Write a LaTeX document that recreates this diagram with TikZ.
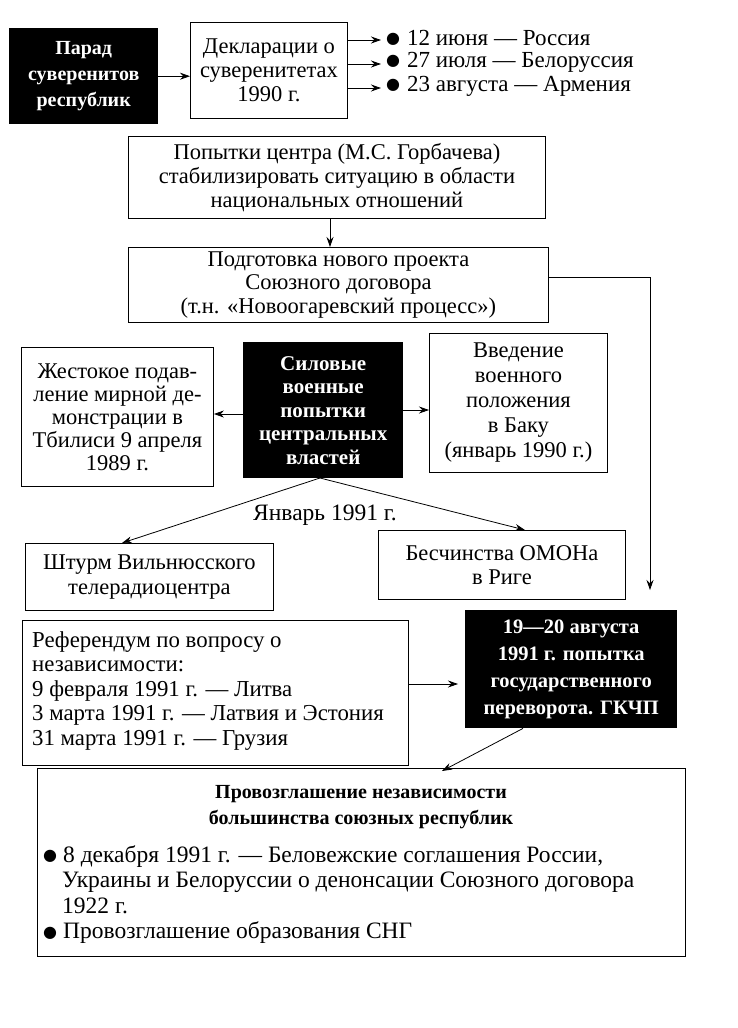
\documentclass[tikz,border=0pt]{standalone}
\usepackage{fontspec}
\setmainfont{Liberation Serif}
\newfontfamily\bulfont{DejaVu Sans}
\usetikzlibrary{arrows.meta,calc}
\newcommand\regf{\fontsize{22.5}{23.8}\selectfont}
\newcommand\reff{\fontsize{22.8}{24.5}\selectfont}
\newcommand\bldf{\fontsize{20}{26}\selectfont\bfseries}
\newcommand\bul{\raisebox{1.5pt}{\bulfont\fontsize{16}{16}\selectfont ●}}
\tikzset{
  box/.style={draw, line width=0.9pt, inner sep=0pt, align=center, font=\regf, anchor=north west},
  blk/.style={fill=black, text=white, inner sep=0pt, align=center, font=\bldf, anchor=north west},
  txt/.style={inner sep=0pt, font=\regf},
  arr/.style={line width=0.8pt, -{Stealth[length=10pt,width=7pt]}},
}
\begin{document}
\begin{tikzpicture}[x=1pt,y=-1pt]
\useasboundingbox (0,0) rectangle (738,1028);
% top row
\node[blk, minimum width=149pt, minimum height=96pt] (parad) at (9,28) {Парад\\суверенитов\\республик};
\node[box, minimum width=157pt, minimum height=96pt] (decl) at (190,22) {Декларации о\\суверенитетах\\1990 г.};
\node[txt, anchor=west, font=\fontsize{23}{24}\selectfont] (l1) at (386,38) {\bul\hspace{7pt}12 июня — Россия};
\node[txt, anchor=west, font=\fontsize{23}{24}\selectfont] (l2) at (386,62) {\bul\hspace{7pt}27 июля — Белоруссия};
\node[txt, anchor=west, font=\fontsize{23}{24}\selectfont] (l3) at (386,86) {\bul\hspace{7pt}23 августа — Армения};
\draw[arr] (parad.east) -- (parad.east -| decl.west);
\draw[arr] (decl.east |- 0,40) -- ([xshift=-5pt]l1.west |- 0,40);
\draw[arr] (decl.east |- 0,64) -- ([xshift=-5pt]l2.west |- 0,64);
\draw[arr] (decl.east |- 0,88) -- ([xshift=-5pt]l3.west |- 0,88);
% center column
\node[box, minimum width=417pt, minimum height=82pt] (pop) at (128,136) {Попытки центра (М.С. Горбачева)\\стабилизировать ситуацию в области\\национальных отношений};
\node[box, minimum width=420pt, minimum height=75pt] (podg) at (128,247) {Подготовка нового проекта\\Союзного договора\\(т.н. «Новоогаревский процесс»)};
\draw[arr] (pop.south -| 330,0) -- (podg.north -| 330,0);
% forces row
\node[box, minimum width=192pt, minimum height=139pt, font=\fontsize{22.5}{23}\selectfont] (zhest) at (21,347) {Жестокое подав-\\ление мирной де-\\монстрации в\\Тбилиси 9 апреля\\1989 г.};
\node[blk, minimum width=160pt, minimum height=136pt, font=\fontsize{21}{23.5}\selectfont\bfseries] (sil) at (243,342) {Силовые\\военные\\попытки\\центральных\\властей};
\node[box, minimum width=178pt, minimum height=139pt, font=\fontsize{22.5}{25}\selectfont] (vved) at (429,333) {Введение\\военного\\положения\\в Баку\\(январь 1990 г.)};
\draw[arr] (sil.west |- 0,414) -- (zhest.east |- 0,414);
\draw[arr] (sil.east |- 0,410) -- (vved.west |- 0,410);
\node[txt, font=\fontsize{23.5}{24}\selectfont] (jan) at (325,515) {Январь 1991 г.};
\node[box, minimum width=248pt, minimum height=67pt, font=\fontsize{22.5}{25}\selectfont] (shturm) at (25,543) {Штурм Вильнюсского\\телерадиоцентра};
\node[box, minimum width=247pt, minimum height=69pt] (besch) at (378,530) {Бесчинства ОМОНа\\в Риге};
\coordinate (sb) at (320,478);
\draw[arr] (sb) -- (shturm.north -| 122,0);
\draw[arr] (sb) -- (besch.north -| 525,0);
% referendum and coup
\node[box, minimum width=386pt, minimum height=145pt] (ref) at (22,620) {};
\node[inner sep=0pt, font=\reff, anchor=north west, align=left] (reft) at (32,631) {Референдум по вопросу о\\независимости:\\9 февраля 1991 г. — Литва\\3 марта 1991 г. — Латвия и Эстония\\31 марта 1991 г. — Грузия};
\node[blk, minimum width=212pt, minimum height=118pt, font=\fontsize{20.5}{27}\selectfont\bfseries] (gk) at (465,610) {19—20 августа\\1991 г. попытка\\государственного\\переворота. ГКЧП};
\coordinate (c1) at (650,590);
\draw[arr] (podg.east |- 0,277) -| (c1);
\draw[arr] (ref.east |- 0,684) -- ([xshift=-7pt]gk.west |- 0,684);
% bottom box
\node[box, minimum width=648pt, minimum height=188pt] (bot) at (37,768) {};
\draw[arr] (gk.south -| 523,0) -- ([yshift=-3pt]bot.north -| 442,0);
\node[inner sep=0pt, font=\bldf, align=center] (bt) at (361,807) {Провозглашение независимости\\большинства союзных республик};
\node[inner sep=0pt, font=\fontsize{23.5}{25.5}\selectfont, anchor=north west, align=left] (b1) at (43,845) {\bul\hspace{6pt}8 декабря 1991 г. — Беловежские соглашения России,\\\hspace{19pt}Украины и Белоруссии о денонсации Союзного договора\\\hspace{19pt}1922 г.\\\bul\hspace{6pt}Провозглашение образования СНГ};
\end{tikzpicture}
\end{document}
